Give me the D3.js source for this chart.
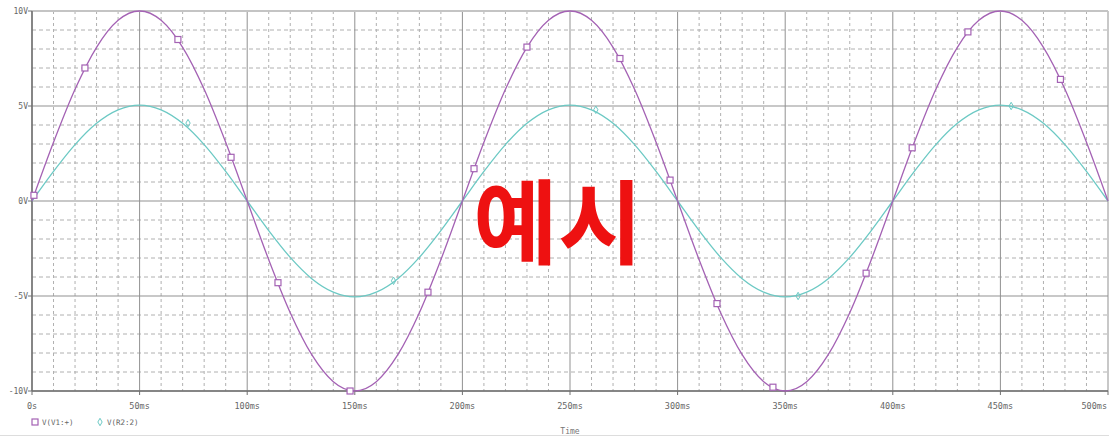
<!DOCTYPE html>
<html><head><meta charset="utf-8">
<script src="https://cdn.jsdelivr.net/npm/d3@7"></script>
<style>
html,body{margin:0;padding:0;background:#fff;}
svg{display:block;}
</style></head>
<body>
<svg id="c" width="1109" height="437"></svg>
<script>
// ---- data ----
const timesMs = [0,10,20,30,40,50,60,70,80,90,100,110,120,130,140,150,160,170,180,190,200,
  210,220,230,240,250,260,270,280,290,300,310,320,330,340,350,360,370,380,390,400,
  410,420,430,440,450,460,470,480,490,500];
const vV1 = [0,3.09,5.88,8.09,9.51,10,9.51,8.09,5.88,3.09,0,-3.09,-5.88,-8.09,-9.51,-10,-9.51,-8.09,-5.88,-3.09,0,
  3.09,5.88,8.09,9.51,10,9.51,8.09,5.88,3.09,0,-3.09,-5.88,-8.09,-9.51,-10,-9.51,-8.09,-5.88,-3.09,0,
  3.09,5.88,8.09,9.51,10,9.51,8.09,5.88,3.09,0];
const vR2 = [0,1.56,2.97,4.09,4.8,5.05,4.8,4.09,2.97,1.56,0,-1.56,-2.97,-4.09,-4.8,-5.05,-4.8,-4.09,-2.97,-1.56,0,
  1.56,2.97,4.09,4.8,5.05,4.8,4.09,2.97,1.56,0,-1.56,-2.97,-4.09,-4.8,-5.05,-4.8,-4.09,-2.97,-1.56,0,
  1.56,2.97,4.09,4.8,5.05,4.8,4.09,2.97,1.56,0];
const markV1Times = [0.9,24.6,67.8,92.5,114.3,147.8,184,205.4,230,273.2,296.5,318.3,344.3,387.6,409,434.9,477.9];
const markV1Vals  = [0.3,7.0,8.5,2.3,-4.3,-10.0,-4.8,1.7,8.1,7.5,1.1,-5.4,-9.8,-3.8,2.8,8.9,6.4];
const markR2Times = [72.5,168,262,356,455];
const markR2Vals  = [4.1,-4.2,4.8,-5.0,5.0];
const xTicks = [0,50,100,150,200,250,300,350,400,450,500];
const xTickLabels = ["0s","50ms","100ms","150ms","200ms","250ms","300ms","350ms","400ms","450ms","500ms"];
const yTicks = [10,5,0,-5,-10];
const yTickLabels = ["10V","5V","0V","-5V","-10V"];
const seriesNames = ["V(V1:+)","V(R2:2)"];

// ---- drawing ----
const svg = d3.select("#c");
const x = d3.scaleLinear().domain([0,500]).range([32,1108]);
const y = d3.scaleLinear().domain([-10,10]).range([391,11]);
const purple = "#a462b4", cyan = "#6cc9c4";
const font = "'DejaVu Sans Mono', monospace";

// minor grid
const minorX = d3.range(0,501,10).filter(t => t % 50 !== 0);
const minorY = d3.range(-10,11,1).filter(v => v % 5 !== 0);
svg.append("g").selectAll("line").data(minorX).join("line")
  .attr("x1", d => x(d)).attr("x2", d => x(d)).attr("y1", y(10)).attr("y2", y(-10))
  .attr("stroke", "#b0b0b0").attr("stroke-width", 1).attr("stroke-dasharray", "3,3");
svg.append("g").selectAll("line").data(minorY).join("line")
  .attr("y1", d => y(d)).attr("y2", d => y(d)).attr("x1", x(0)).attr("x2", x(500))
  .attr("stroke", "#b0b0b0").attr("stroke-width", 1).attr("stroke-dasharray", "4,3");

// major grid
svg.append("g").selectAll("line").data(xTicks).join("line")
  .attr("x1", d => x(d)).attr("x2", d => x(d)).attr("y1", y(10)).attr("y2", y(-10))
  .attr("stroke", "#919191").attr("stroke-width", 1);
svg.append("g").selectAll("line").data(yTicks).join("line")
  .attr("y1", d => y(d)).attr("y2", d => y(d)).attr("x1", x(0)).attr("x2", x(500))
  .attr("stroke", "#919191").attr("stroke-width", 1);

// frame
svg.append("line").attr("x1", x(0)).attr("x2", x(500)).attr("y1", y(10)).attr("y2", y(10))
  .attr("stroke", "#c4c4c4").attr("stroke-width", 2);
svg.append("line").attr("x1", x(0)).attr("x2", x(500)).attr("y1", y(-10)).attr("y2", y(-10))
  .attr("stroke", "#707070").attr("stroke-width", 1.5);
svg.append("line").attr("x1", x(0)).attr("x2", x(0)).attr("y1", y(10)).attr("y2", y(-10))
  .attr("stroke", "#707070").attr("stroke-width", 1.5);
svg.append("line").attr("x1", 0).attr("x2", 1109).attr("y1", 435.5).attr("y2", 435.5)
  .attr("stroke", "#dddddd").attr("stroke-width", 1);

// ticks
svg.append("g").selectAll("line").data(xTicks).join("line")
  .attr("x1", d => x(d)).attr("x2", d => x(d)).attr("y1", y(-10)).attr("y2", y(-10) + 4)
  .attr("stroke", "#707070");
svg.append("g").selectAll("line").data(yTicks).join("line")
  .attr("y1", d => y(d)).attr("y2", d => y(d)).attr("x1", x(0) - 4).attr("x2", x(0))
  .attr("stroke", "#707070");

// tick labels
svg.append("g").selectAll("text").data(xTicks).join("text")
  .attr("x", (d,i) => i === xTicks.length - 1 ? 1107 : x(d))
  .attr("y", 409)
  .attr("text-anchor", (d,i) => i === xTicks.length - 1 ? "end" : "middle")
  .attr("font-family", font).attr("font-size", 8.5).attr("fill", "#666")
  .text((d,i) => xTickLabels[i]);
svg.append("g").selectAll("text").data(yTicks).join("text")
  .attr("x", 28).attr("y", d => y(d) + 3)
  .attr("text-anchor", "end")
  .attr("font-family", font).attr("font-size", 8).attr("fill", "#666")
  .text((d,i) => yTickLabels[i]);

// axis title
svg.append("text").attr("x", x(250)).attr("y", 434).attr("text-anchor", "middle")
  .attr("font-family", font).attr("font-size", 8).attr("fill", "#777").text("Time");

// lines
const line1 = d3.line().curve(d3.curveMonotoneX).x((d,i) => x(timesMs[i])).y(d => y(d));
svg.append("path").datum(vR2).attr("d", line1).attr("fill", "none")
  .attr("stroke", cyan).attr("stroke-width", 1.3);
svg.append("path").datum(vV1).attr("d", line1).attr("fill", "none")
  .attr("stroke", purple).attr("stroke-width", 1.3);

// markers
svg.append("g").selectAll("rect").data(markV1Times).join("rect")
  .attr("x", d => x(d) - 3).attr("y", (d,i) => y(markV1Vals[i]) - 3)
  .attr("width", 6).attr("height", 6).attr("fill", "#fff")
  .attr("stroke", purple).attr("stroke-width", 1.2);
const diamond = d3.symbol().type(d3.symbolDiamond).size(16);
svg.append("g").selectAll("path").data(markR2Times).join("path")
  .attr("transform", (d,i) => `translate(${x(d)},${y(markR2Vals[i])})`)
  .attr("d", diamond).attr("fill", "none").attr("stroke", cyan).attr("stroke-width", 1);

// legend
svg.append("rect").attr("x", 32).attr("y", 419).attr("width", 6).attr("height", 6)
  .attr("fill", "#fff").attr("stroke", purple).attr("stroke-width", 1.2);
svg.append("text").attr("x", 42).attr("y", 425).attr("font-family", font).attr("font-size", 7.5)
  .attr("fill", "#666").text(seriesNames[0]);
svg.append("path").attr("transform", "translate(100,422)").attr("d", diamond)
  .attr("fill", "none").attr("stroke", cyan).attr("stroke-width", 1);
svg.append("text").attr("x", 107).attr("y", 425).attr("font-family", font).attr("font-size", 7.5)
  .attr("fill", "#666").text(seriesNames[1]);

// watermark
svg.append("text").attr("x", 558).attr("y", 257).attr("text-anchor", "middle")
  .attr("font-family", "'Noto Sans CJK KR', sans-serif").attr("font-weight", 700)
  .attr("font-size", 92).attr("fill", "#ee1111").text("예시");
</script>
</body></html>
